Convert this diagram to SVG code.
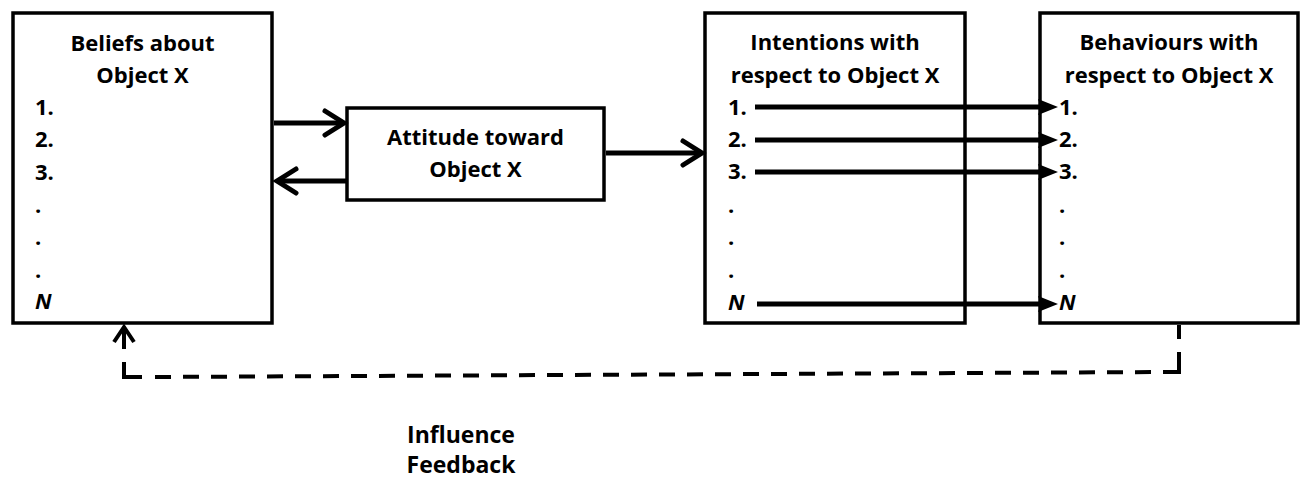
<svg xmlns="http://www.w3.org/2000/svg" width="1305" height="482" viewBox="0 0 1305 482">
  <style>
    .box { fill: #fff; stroke: #000; stroke-width: 3.5; }
    .t { font-family: "Open Sans", "Liberation Sans", sans-serif; font-weight: 700; font-size: 22px; fill: #000; }
    .big { font-size: 23px; }
    .c { text-anchor: middle; }
    .i { font-style: italic; }
    .link { fill: none; stroke: #000; stroke-width: 5; }
    .dash { fill: none; stroke: #000; stroke-width: 4; }
  </style>
  <defs>
    <!-- open chevron head; tip sits on the line end -->
    <marker id="openHead" markerUnits="userSpaceOnUse" markerWidth="30" markerHeight="30" refX="24" refY="15" orient="auto" overflow="visible">
      <path d="M5,3 L24,15 L5,27" fill="none" stroke="#000" stroke-width="5" stroke-linecap="round" stroke-linejoin="miter"/>
    </marker>
    <!-- solid head; its back sits on the line end -->
    <marker id="solidHead" markerUnits="userSpaceOnUse" markerWidth="22" markerHeight="18" refX="1" refY="9" orient="auto" overflow="visible">
      <path d="M-2,1 L18,9 L-2,17 L1,9 Z" fill="#000"/>
    </marker>
  </defs>

  <g id="beliefs">
    <rect class="box" x="13" y="13" width="259" height="310"/>
    <text class="t c" x="142.5" y="51">Beliefs about</text>
    <text class="t c" x="142.5" y="83">Object X</text>
    <text class="t" x="35" y="115">1.</text>
    <text class="t" x="35" y="147">2.</text>
    <text class="t" x="35" y="180">3.</text>
    <text class="t" x="35" y="213">.</text>
    <text class="t" x="35" y="245">.</text>
    <text class="t" x="35" y="278">.</text>
    <text class="t i" x="35" y="309">N</text>
  </g>

  <g id="attitude">
    <rect class="box" x="347" y="108" width="257" height="92"/>
    <text class="t c" x="475.5" y="145">Attitude toward</text>
    <text class="t c" x="475.5" y="177">Object X</text>
  </g>

  <g id="intentions">
    <rect class="box" x="705" y="13" width="260" height="310"/>
    <text class="t c" x="835" y="50">Intentions with</text>
    <text class="t c" x="835" y="83">respect to Object X</text>
    <text class="t" x="728" y="115">1.</text>
    <text class="t" x="728" y="147">2.</text>
    <text class="t" x="728" y="179">3.</text>
    <text class="t" x="728" y="213">.</text>
    <text class="t" x="728" y="245">.</text>
    <text class="t" x="728" y="278">.</text>
    <text class="t i" x="728" y="310">N</text>
  </g>

  <g id="behaviours">
    <rect class="box" x="1040" y="13" width="258" height="310"/>
    <text class="t c" x="1169" y="50">Behaviours with</text>
    <text class="t c" x="1169" y="83">respect to Object X</text>
    <text class="t" x="1059" y="115">1.</text>
    <text class="t" x="1059" y="147">2.</text>
    <text class="t" x="1059" y="179">3.</text>
    <text class="t" x="1059" y="213">.</text>
    <text class="t" x="1059" y="245">.</text>
    <text class="t" x="1059" y="278">.</text>
    <text class="t i" x="1059" y="310">N</text>
  </g>

  <g id="connectors">
    <path class="link" d="M274,123 H344" marker-end="url(#openHead)"/>
    <path class="link" d="M347,181 H277" marker-end="url(#openHead)"/>
    <path class="link" d="M606,153 H702" marker-end="url(#openHead)"/>

    <path class="link" d="M755,107 H1041" marker-end="url(#solidHead)"/>
    <path class="link" d="M755,140 H1041" marker-end="url(#solidHead)"/>
    <path class="link" d="M755,172 H1041" marker-end="url(#solidHead)"/>
    <path class="link" d="M757,304 H1041" marker-end="url(#solidHead)"/>

    <!-- dashed feedback loop from behaviours back to beliefs -->
    <path class="dash" d="M1179,325 V339 M1179,352 V372 H1163"/>
    <path class="dash" d="M1151,372.1 L153,377" stroke-dasharray="16 12"/>
    <path class="dash" d="M142,377 H124 V362"/>
    <path class="dash" d="M124,349 V327"/>
    <path class="dash" d="M114,342 L124,327 L134,342" stroke-linejoin="miter"/>
  </g>

  <g id="legend">
    <text class="t big c" x="461" y="443">Influence</text>
    <text class="t big c" x="461" y="473">Feedback</text>
  </g>
</svg>
